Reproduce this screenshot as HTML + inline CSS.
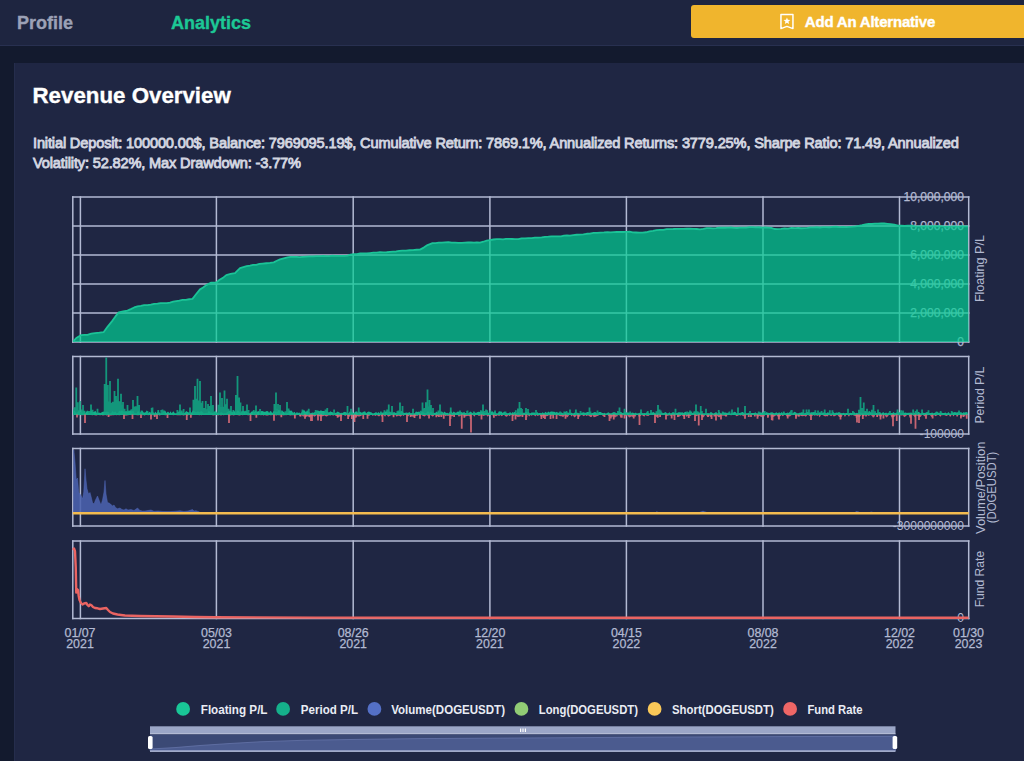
<!DOCTYPE html>
<html><head><meta charset="utf-8"><title>Analytics</title>
<style>
html,body{margin:0;padding:0;}
body{width:1024px;height:761px;overflow:hidden;background:#131a2e;font-family:"Liberation Sans",sans-serif;position:relative;}
.hdr{position:absolute;left:0;top:0;width:1024px;height:45px;background:#1e2540;border-bottom:1px solid #283050;}
.tab{position:absolute;top:11.5px;font-size:18px;font-weight:bold;line-height:22px;white-space:nowrap;}
.t1{left:17px;color:#9ca1b6;-webkit-text-stroke:0.35px #9ca1b6;}
.t2{left:171px;color:#1cc895;-webkit-text-stroke:0.35px #1cc895;}
.btn{position:absolute;left:691px;top:5px;width:340px;height:33px;background:#f0b52d;border-radius:3px;}
.btn span{position:absolute;left:113.8px;top:7.7px;letter-spacing:-0.2px;font-size:15px;font-weight:bold;color:#fff;line-height:18px;white-space:nowrap;-webkit-text-stroke:0.4px #fff;}
.btn svg{position:absolute;left:89px;top:8px;}
.card{position:absolute;left:14px;top:63.4px;width:1020px;height:710px;background:#1f2643;border-left:1px solid #252d4c;}
h1{position:absolute;left:32.5px;top:82.7px;margin:0;font-size:22.3px;line-height:26px;font-weight:bold;color:#fff;white-space:nowrap;-webkit-text-stroke:0.35px #fff;}
.stats{position:absolute;left:33px;top:133px;width:980px;font-size:14.6px;line-height:20px;color:#d3d6e1;font-weight:normal;-webkit-text-stroke:0.85px #d3d6e1;letter-spacing:-0.157px;white-space:nowrap;}
#chart{position:absolute;left:0;top:0;}
</style></head><body>
<div class="hdr"></div>
<div class="tab t1">Profile</div>
<div class="tab t2">Analytics</div>
<div class="btn"><svg width="16" height="18" viewBox="0 0 16 18"><path d="M0.95,1.45H12.95V15.6L6.95,13.4L0.95,15.6Z" fill="none" stroke="#fff" stroke-width="1.5" stroke-linejoin="round"/><path d="M6.95,4.45 L7.89,6.76 L10.37,6.94 L8.47,8.54 L9.07,10.96 L6.95,9.65 L4.83,10.96 L5.43,8.54 L3.53,6.94 L6.01,6.76Z" fill="#fff"/></svg><span>Add An Alternative</span></div>
<div class="card"></div>
<h1>Revenue Overview</h1>
<div class="stats">Initial Deposit: 100000.00$, Balance: 7969095.19$, Cumulative Return: 7869.1%, Annualized Returns: 3779.25%, Sharpe Ratio: 71.49, Annualized<br>Volatility: 52.82%, Max Drawdown: -3.77%</div>
<svg id="chart" width="1024" height="761" viewBox="0 0 1024 761" font-family="Liberation Sans, sans-serif">
<g stroke="#b3bad3" stroke-width="1.5" stroke-linecap="square" fill="none"><line x1="72.8" y1="197" x2="968.7" y2="197"/><line x1="72.8" y1="342" x2="968.7" y2="342"/><line x1="72.8" y1="226" x2="968.7" y2="226"/><line x1="72.8" y1="255" x2="968.7" y2="255"/><line x1="72.8" y1="284" x2="968.7" y2="284"/><line x1="72.8" y1="313" x2="968.7" y2="313"/><line x1="72.8" y1="197" x2="72.8" y2="342"/><line x1="80.4" y1="197" x2="80.4" y2="342"/><line x1="216.4" y1="197" x2="216.4" y2="342"/><line x1="353.2" y1="197" x2="353.2" y2="342"/><line x1="489.9" y1="197" x2="489.9" y2="342"/><line x1="626.4" y1="197" x2="626.4" y2="342"/><line x1="763" y1="197" x2="763" y2="342"/><line x1="899.5" y1="197" x2="899.5" y2="342"/><line x1="968.7" y1="197" x2="968.7" y2="342"/></g>
<g fill="#b3bad2" stroke="#b3bad2" stroke-width="0.25" font-size="12.1" text-anchor="end">
<text x="964" y="201.4">10,000,000</text>
<text x="964" y="230.4">8,000,000</text>
<text x="964" y="259.4">6,000,000</text>
<text x="964" y="288.4">4,000,000</text>
<text x="964" y="317.4">2,000,000</text>
<text x="964" y="346.4">0</text>
</g>
<path d="M73,341.6 L76.25,338.1 L81.25,335.1 L84.38,334.85 L87.5,334.85 L91.25,333.73 L95,333.1 L99.38,332.71 L103.75,332.1 L107.5,326.85 L112.5,320.6 L115.62,316.18 L118.75,312.35 L123.12,311.5 L127.5,310.6 L130.83,309.09 L134.17,307.46 L137.5,306.35 L140.83,305.94 L144.17,305.19 L147.5,305.1 L150.83,304.55 L154.17,303.8 L157.5,303.6 L160.62,303.06 L163.75,303.05 L166.88,303.08 L170,302.6 L173.12,301.65 L176.25,301.03 L179.38,300.63 L182.5,299.85 L185.83,299.83 L189.17,299.24 L192.5,298.85 L196.25,294.03 L200,289.35 L203.12,287.56 L206.25,285.1 L211.25,282.6 L216.25,282.6 L219.58,279.78 L222.92,277.85 L226.25,275.1 L230.62,273.95 L235,273.1 L240,268.1 L243.33,267.02 L246.67,266.17 L250,265.6 L253.12,264.97 L256.25,264.82 L259.38,263.88 L262.5,263.6 L266.25,263.24 L270,262.86 L273.75,262.35 L276.88,260.76 L280,259.35 L283.75,258.38 L287.5,257.35 L290.5,256.94 L293.5,256.84 L296.5,256.84 L299.5,257.08 L302.5,256.85 L306,256.65 L309.5,256.42 L313,256.46 L316.5,256.22 L320,256.1 L323.06,255.9 L326.11,256.19 L329.17,256.07 L332.22,255.7 L335.28,255.87 L338.33,255.78 L341.39,255.97 L344.44,255.82 L347.5,255.6 L350.62,254.7 L353.75,254.1 L357,254.24 L360.25,253.43 L363.5,253.44 L366.75,253.48 L370,253.1 L373.33,252.65 L376.67,252.68 L380,252.15 L383.33,252.38 L386.67,252.24 L390,251.85 L393.12,251.59 L396.25,251.49 L399.38,250.78 L402.5,250.6 L406,250.54 L409.5,250.27 L413,250.06 L416.5,249.77 L420,249.6 L423.75,247.59 L427.5,245.1 L432.5,243.1 L435.62,243.22 L438.75,242.71 L441.88,242.65 L445,242.35 L448.33,242.08 L451.67,242.57 L455,242.58 L458.33,242.86 L461.67,242.78 L465,242.6 L468,242.45 L471,242.52 L474,242.72 L477,242.27 L480,242.6 L483.33,241.74 L486.67,240.7 L490,240.1 L493.33,239.5 L496.67,239.12 L500,239.1 L503,239.29 L506,238.84 L509,238.92 L512,239.02 L515,239.1 L518.33,239.11 L521.67,238.31 L525,238.31 L528.33,238.13 L531.67,238.12 L535,237.6 L538.33,237.62 L541.67,237.44 L545,236.82 L548.33,236.71 L551.67,236.46 L555,236.35 L558,236.47 L561,236.37 L564,235.66 L567,235.52 L570,235.6 L573.33,235.08 L576.67,234.75 L580,234.59 L583.33,234.33 L586.67,233.77 L590,233.6 L593.5,232.95 L597,232.94 L600.5,232.61 L604,232.45 L607.5,232.1 L610.62,232.38 L613.75,232.15 L616.88,231.99 L620,232.02 L623.12,232.02 L626.25,231.85 L629.5,231.69 L632.75,232.43 L636,232.5 L639.25,232.71 L642.5,232.6 L646,232.26 L649.5,231.42 L653,230.88 L656.5,230.12 L660,229.85 L663.33,229.78 L666.67,229.21 L670,229.05 L673.33,228.98 L676.67,228.78 L680,228.85 L683.33,228.82 L686.67,228.7 L690,228.75 L693.33,228.94 L696.67,228.99 L700,229.35 L703.33,228.84 L706.67,228.18 L710,228.1 L713,228.31 L716,228.08 L719,227.7 L722,227.73 L725,227.74 L728,227.7 L731,227.49 L734,227.94 L737,228 L740,227.6 L743.12,227.54 L746.25,227.53 L749.38,227.22 L752.5,227.2 L755.62,227.33 L758.75,227.25 L761.88,227.61 L765,227.35 L768.12,227.55 L771.25,227.89 L774.38,228.98 L777.5,229.1 L781,228.92 L784.5,228.45 L788,228.53 L791.5,227.97 L795,228.1 L798.1,228.02 L801.2,228.23 L804.3,228.05 L807.4,227.84 L810.5,227.43 L813.6,227.41 L816.7,227.17 L819.8,227.49 L822.9,227.22 L826,227.1 L829.4,227.25 L832.8,226.88 L836.2,226.76 L839.6,227.12 L843,226.85 L846.12,227.06 L849.25,226.85 L852.38,226.69 L855.5,226.35 L858.83,225.91 L862.17,225.18 L865.5,224.35 L868.62,223.97 L871.75,223.99 L874.88,223.69 L878,223.6 L881.12,223.4 L884.25,223.52 L887.38,223.82 L890.5,224.1 L894.25,224.68 L898,225.6 L901.33,225.73 L904.67,225.92 L908,225.6 L911.33,225.69 L914.67,226.16 L918,226.32 L921.33,226.42 L924.67,226.13 L928,226.35 L931.08,226.15 L934.15,226.16 L937.23,226.14 L940.31,226.14 L943.38,226.44 L946.46,226.63 L949.54,226.59 L952.62,226.34 L955.69,226.46 L958.77,226.56 L961.85,226.06 L964.92,226.46 L968,226.35 L968.7,342 L72.8,342 Z" fill="#02cf93" fill-opacity="0.7"/>
<path d="M73,341.6 L76.25,338.1 L81.25,335.1 L84.38,334.85 L87.5,334.85 L91.25,333.73 L95,333.1 L99.38,332.71 L103.75,332.1 L107.5,326.85 L112.5,320.6 L115.62,316.18 L118.75,312.35 L123.12,311.5 L127.5,310.6 L130.83,309.09 L134.17,307.46 L137.5,306.35 L140.83,305.94 L144.17,305.19 L147.5,305.1 L150.83,304.55 L154.17,303.8 L157.5,303.6 L160.62,303.06 L163.75,303.05 L166.88,303.08 L170,302.6 L173.12,301.65 L176.25,301.03 L179.38,300.63 L182.5,299.85 L185.83,299.83 L189.17,299.24 L192.5,298.85 L196.25,294.03 L200,289.35 L203.12,287.56 L206.25,285.1 L211.25,282.6 L216.25,282.6 L219.58,279.78 L222.92,277.85 L226.25,275.1 L230.62,273.95 L235,273.1 L240,268.1 L243.33,267.02 L246.67,266.17 L250,265.6 L253.12,264.97 L256.25,264.82 L259.38,263.88 L262.5,263.6 L266.25,263.24 L270,262.86 L273.75,262.35 L276.88,260.76 L280,259.35 L283.75,258.38 L287.5,257.35 L290.5,256.94 L293.5,256.84 L296.5,256.84 L299.5,257.08 L302.5,256.85 L306,256.65 L309.5,256.42 L313,256.46 L316.5,256.22 L320,256.1 L323.06,255.9 L326.11,256.19 L329.17,256.07 L332.22,255.7 L335.28,255.87 L338.33,255.78 L341.39,255.97 L344.44,255.82 L347.5,255.6 L350.62,254.7 L353.75,254.1 L357,254.24 L360.25,253.43 L363.5,253.44 L366.75,253.48 L370,253.1 L373.33,252.65 L376.67,252.68 L380,252.15 L383.33,252.38 L386.67,252.24 L390,251.85 L393.12,251.59 L396.25,251.49 L399.38,250.78 L402.5,250.6 L406,250.54 L409.5,250.27 L413,250.06 L416.5,249.77 L420,249.6 L423.75,247.59 L427.5,245.1 L432.5,243.1 L435.62,243.22 L438.75,242.71 L441.88,242.65 L445,242.35 L448.33,242.08 L451.67,242.57 L455,242.58 L458.33,242.86 L461.67,242.78 L465,242.6 L468,242.45 L471,242.52 L474,242.72 L477,242.27 L480,242.6 L483.33,241.74 L486.67,240.7 L490,240.1 L493.33,239.5 L496.67,239.12 L500,239.1 L503,239.29 L506,238.84 L509,238.92 L512,239.02 L515,239.1 L518.33,239.11 L521.67,238.31 L525,238.31 L528.33,238.13 L531.67,238.12 L535,237.6 L538.33,237.62 L541.67,237.44 L545,236.82 L548.33,236.71 L551.67,236.46 L555,236.35 L558,236.47 L561,236.37 L564,235.66 L567,235.52 L570,235.6 L573.33,235.08 L576.67,234.75 L580,234.59 L583.33,234.33 L586.67,233.77 L590,233.6 L593.5,232.95 L597,232.94 L600.5,232.61 L604,232.45 L607.5,232.1 L610.62,232.38 L613.75,232.15 L616.88,231.99 L620,232.02 L623.12,232.02 L626.25,231.85 L629.5,231.69 L632.75,232.43 L636,232.5 L639.25,232.71 L642.5,232.6 L646,232.26 L649.5,231.42 L653,230.88 L656.5,230.12 L660,229.85 L663.33,229.78 L666.67,229.21 L670,229.05 L673.33,228.98 L676.67,228.78 L680,228.85 L683.33,228.82 L686.67,228.7 L690,228.75 L693.33,228.94 L696.67,228.99 L700,229.35 L703.33,228.84 L706.67,228.18 L710,228.1 L713,228.31 L716,228.08 L719,227.7 L722,227.73 L725,227.74 L728,227.7 L731,227.49 L734,227.94 L737,228 L740,227.6 L743.12,227.54 L746.25,227.53 L749.38,227.22 L752.5,227.2 L755.62,227.33 L758.75,227.25 L761.88,227.61 L765,227.35 L768.12,227.55 L771.25,227.89 L774.38,228.98 L777.5,229.1 L781,228.92 L784.5,228.45 L788,228.53 L791.5,227.97 L795,228.1 L798.1,228.02 L801.2,228.23 L804.3,228.05 L807.4,227.84 L810.5,227.43 L813.6,227.41 L816.7,227.17 L819.8,227.49 L822.9,227.22 L826,227.1 L829.4,227.25 L832.8,226.88 L836.2,226.76 L839.6,227.12 L843,226.85 L846.12,227.06 L849.25,226.85 L852.38,226.69 L855.5,226.35 L858.83,225.91 L862.17,225.18 L865.5,224.35 L868.62,223.97 L871.75,223.99 L874.88,223.69 L878,223.6 L881.12,223.4 L884.25,223.52 L887.38,223.82 L890.5,224.1 L894.25,224.68 L898,225.6 L901.33,225.73 L904.67,225.92 L908,225.6 L911.33,225.69 L914.67,226.16 L918,226.32 L921.33,226.42 L924.67,226.13 L928,226.35 L931.08,226.15 L934.15,226.16 L937.23,226.14 L940.31,226.14 L943.38,226.44 L946.46,226.63 L949.54,226.59 L952.62,226.34 L955.69,226.46 L958.77,226.56 L961.85,226.06 L964.92,226.46 L968,226.35" fill="none" stroke="#1bc397" stroke-width="1.8" stroke-linejoin="round"/>
<g stroke="#b3bad3" stroke-width="1.5" stroke-linecap="square" fill="none"><line x1="72.8" y1="356.5" x2="968.7" y2="356.5"/><line x1="72.8" y1="434" x2="968.7" y2="434"/><line x1="72.8" y1="356.5" x2="72.8" y2="434"/><line x1="80.4" y1="356.5" x2="80.4" y2="434"/><line x1="216.4" y1="356.5" x2="216.4" y2="434"/><line x1="353.2" y1="356.5" x2="353.2" y2="434"/><line x1="489.9" y1="356.5" x2="489.9" y2="434"/><line x1="626.4" y1="356.5" x2="626.4" y2="434"/><line x1="763" y1="356.5" x2="763" y2="434"/><line x1="899.5" y1="356.5" x2="899.5" y2="434"/><line x1="968.7" y1="356.5" x2="968.7" y2="434"/></g>
<text x="964" y="438.4" fill="#b3bad2" font-size="12.1" text-anchor="end">-100000</text>
<path d="M73.2,415.1 L73.2,410.41 L74.73,410.95 L76.01,412.89 L77.54,412.37 L79.08,410.2 L80.3,412.14 L81.95,411.04 L82.99,413.07 L84.01,410.42 L85.56,413 L87.12,410.17 L88.54,412.31 L89.88,413.05 L90.79,410.2 L92.21,411.71 L93.86,412.03 L95.46,410.69 L96.53,412.64 L97.66,412.68 L99.03,412.62 L100.27,413.05 L101.89,412.3 L103.16,411.52 L104.78,412.07 L106.42,411.79 L107.74,411.72 L108.66,412 L109.7,413.49 L111.24,412.91 L112.52,411.03 L113.87,412.39 L115.18,411.61 L116.71,413.14 L118.06,412.66 L119.18,410.87 L120.49,411.59 L121.99,410.4 L123.25,411.42 L124.55,411.76 L126.01,411.96 L127.33,411.87 L128.99,411.12 L130.59,410.3 L131.7,411.6 L133.35,410.64 L134.36,413.09 L135.61,413.25 L136.71,413.25 L138.14,410.83 L139.76,412.97 L141.23,411.26 L142.25,410.5 L143.92,412.75 L145.58,412.15 L146.87,410.13 L148.44,412.95 L149.68,411.75 L150.86,412.83 L152.01,411.04 L152.93,411.62 L154.18,413.44 L155.34,411.38 L156.65,413.28 L158.34,410.82 L160.02,413.14 L161.13,413.37 L162.65,412.58 L163.66,412.06 L165.29,410.72 L166.39,412.99 L168.03,411.56 L169.49,413.2 L170.44,411.16 L171.68,413.25 L173.33,411.34 L174.87,413.22 L176.45,413.27 L178.04,411.96 L179.21,411.62 L180.86,412.59 L181.86,411.71 L182.95,413.13 L183.98,413.33 L185.04,412.44 L186.18,410.92 L187.32,411.8 L188.36,412.32 L189.27,412.65 L190.19,411.01 L191.53,412.86 L192.81,410.32 L193.79,410.72 L195.04,411.82 L196.6,412.16 L197.91,411.16 L199.6,412.33 L201.16,411.1 L202.57,412.12 L203.75,413.32 L204.75,413.26 L206.24,412.63 L207.28,413.21 L208.85,410.54 L210.28,412.54 L211.38,412.5 L212.65,412.96 L213.9,412.6 L215.57,410.19 L216.91,412.67 L218.58,412.45 L219.77,413.5 L220.97,411.89 L222.28,412.82 L223.58,413.48 L224.69,413.19 L225.91,413.36 L226.83,412.47 L227.91,411.51 L229.24,410.95 L230.66,411.07 L232.27,412.18 L233.43,410.15 L234.45,411.04 L235.86,413.35 L237.43,410.47 L238.83,411 L240.38,413.03 L241.7,411.79 L243.27,410.76 L244.83,411.51 L246.44,411.18 L247.9,412.72 L248.82,413.05 L250.01,413.14 L251.58,411.6 L252.98,411.37 L254.43,411.84 L255.33,410.79 L256.83,411.79 L258.16,411.26 L259.11,410.99 L260.21,413.25 L261.32,411.02 L262.39,410.98 L264.07,411.82 L265.28,411.87 L266.72,410.89 L268.12,411.31 L269.08,413 L270.18,410.97 L271.32,411.57 L272.23,413.29 L273.35,411.22 L274.8,411.2 L275.94,411.74 L277.21,411.91 L278.2,410.46 L279.26,410.17 L280.91,413.44 L282.18,410.71 L283.85,411.97 L284.97,412.79 L286.62,412.78 L287.99,413.02 L289.31,410.26 L290.31,410.71 L291.62,410.48 L293.08,412.71 L294.7,411.85 L295.62,413.49 L296.92,411.97 L298.06,413.02 L299.23,412.43 L300.8,413.49 L302.3,410.65 L303.3,410.35 L304.77,410.43 L305.9,412.23 L307.12,410.1 L308.49,412.27 L309.73,412.56 L310.67,413.15 L312.24,412.53 L313.89,412.65 L315,411.76 L316.05,412.23 L317.72,410.49 L319.26,411.35 L320.9,410.3 L322.24,411.05 L323.17,411.01 L324.44,410.94 L325.85,412.53 L326.79,410.35 L327.79,411.89 L328.97,412.49 L330.46,411.35 L331.57,412.06 L332.71,412.27 L333.92,413.13 L334.95,413.04 L336.58,412.41 L337.65,411.51 L339.35,412.51 L340.36,413.08 L341.33,412.75 L342.31,412.97 L343.41,412.25 L345.02,411.85 L346.25,412.59 L347.57,412.67 L348.74,413.36 L349.87,411.37 L350.87,412.39 L352.27,411.6 L353.34,412.9 L354.44,412.62 L355.7,411.4 L357.28,411.58 L358.19,413.43 L359.66,411.53 L360.94,412.21 L361.84,412.64 L363.48,411.68 L365.07,411.36 L366.17,413.26 L367.19,412.35 L368.63,411.43 L370.11,412.08 L371.62,412.49 L372.97,413.41 L374.49,412.99 L376.13,412.08 L377.27,413.22 L378.37,412.1 L379.83,413.25 L380.79,412.35 L382.15,412.65 L383.23,412.18 L384.14,412.84 L385.41,411.39 L386.82,411.56 L388.1,412.98 L389.2,411.39 L390.67,412.82 L391.58,412.4 L393.02,412.58 L394.13,412.03 L395.77,413 L396.7,412.76 L397.93,412 L398.99,411.75 L400.48,412.39 L401.55,411.37 L402.7,411.7 L403.78,413.01 L405.29,412.85 L406.95,412.41 L408,413.01 L409.23,412.04 L410.89,413.18 L412.11,413.03 L413.79,413.19 L414.73,413.37 L415.94,411.52 L417.55,411.89 L419.25,411.45 L420.41,413.09 L422.06,411.86 L422.99,412.04 L424.19,412.68 L425.35,413.13 L426.26,412.88 L427.44,411.4 L428.44,411.38 L429.5,412.72 L431.06,411.69 L432.31,413.39 L433.58,412.68 L435.22,413.08 L436.41,411.53 L437.34,412.6 L438.88,411.81 L439.82,413.42 L440.77,411.48 L441.87,411.86 L443.49,412.75 L444.61,411.39 L446,412.92 L447.48,412.8 L448.6,413.49 L450.1,411.48 L451.51,411.42 L452.43,412.99 L453.71,411.4 L455.37,412.65 L456.47,412.55 L457.77,411.46 L458.81,411.73 L460.3,411.69 L461.82,412.16 L462.98,412.8 L464.17,411.78 L465.14,413.07 L466.64,412.96 L467.59,413.43 L468.93,412.78 L470.62,411.56 L472.31,412.92 L473.28,413.29 L474.57,411.94 L475.83,412.98 L477.07,412.14 L478.5,411.85 L480.08,412.04 L481.08,411.65 L482.21,412.25 L483.41,411.88 L484.47,412.96 L485.57,413.16 L487.18,412.23 L488.34,412.63 L490.03,412.38 L491.12,411.72 L492.54,411.32 L493.52,412.46 L495.08,411.65 L496.71,413.41 L497.84,413.24 L498.89,411.36 L500.26,411.45 L501.46,411.59 L502.72,412.93 L504.24,411.42 L505.22,412.19 L506.62,413.02 L507.81,413.19 L508.88,412.94 L510.26,412.07 L511.32,413.47 L512.48,412.01 L513.53,412.81 L514.59,411.75 L515.93,413.36 L516.91,412.63 L518.25,412.09 L519.23,413.14 L520.68,412.6 L521.81,412.82 L523.47,412.81 L524.82,412.71 L526.06,411.6 L527.75,412.7 L528.81,411.9 L529.88,413.49 L531.5,412.57 L533.05,412.61 L534.66,412.49 L535.69,413.47 L537.03,412.09 L538.66,413.3 L540.06,412.68 L541.36,413.18 L542.49,412.35 L544.13,413.26 L545.42,411.73 L547.09,413.07 L548.09,411.43 L549.77,412.44 L550.72,411.46 L551.93,411.51 L553.32,411.69 L554.35,411.77 L555.43,412.61 L557.01,411.68 L558.05,413.02 L559.27,412.36 L560.48,413.29 L561.58,412.27 L563.2,413.43 L564.54,412.21 L565.48,412.08 L566.47,412.48 L567.81,412.43 L568.95,412.79 L570.32,412.78 L571.75,412.74 L573,413.46 L574.39,412.67 L575.48,412.2 L577.01,412.72 L578.05,412.7 L579.04,413.28 L580.28,413.34 L581.53,412.63 L582.47,412.42 L583.43,412.25 L584.95,412.63 L585.9,412.64 L587.1,411.88 L588.11,412.04 L589.81,412.26 L591.36,413.17 L593.04,412.66 L594.71,411.94 L595.74,412.16 L597.38,413.39 L598.57,412.21 L599.59,411.98 L600.71,412.11 L601.73,412.65 L603.36,413.15 L604.47,412.64 L605.63,413.44 L606.67,413.23 L608.32,412.34 L609.94,413.21 L611.47,413.3 L612.79,412.42 L613.98,412.02 L615.32,412.51 L616.93,413.32 L618.62,412.43 L619.84,412.14 L620.95,411.82 L622.31,412.89 L623.83,412.75 L624.87,412.24 L625.81,412.11 L626.91,412.41 L628.6,412.5 L630.03,412.97 L630.93,413.44 L631.95,412.45 L633.19,412.63 L634.81,413.28 L635.89,412.39 L636.81,413.5 L637.99,413.32 L639.18,413.12 L640.55,412.5 L641.61,412.44 L642.89,413.27 L644.54,413.09 L645.56,413.34 L646.97,412.02 L648.49,412.82 L649.61,413.48 L651.02,412.54 L652.2,412.4 L653.46,411.91 L654.94,413.08 L656.57,413.43 L657.89,412.81 L658.98,413.4 L660.5,413.48 L661.85,411.9 L662.86,413.16 L664.25,412.64 L665.66,412.12 L666.7,412.97 L667.84,413.42 L669.45,412.17 L670.92,413.49 L672.5,412.23 L673.77,412.24 L675.03,413.12 L676.02,413.11 L676.95,412.93 L678.45,412.32 L680.02,412.29 L681.14,412.56 L682.39,412.16 L683.7,413.05 L685.12,411.86 L686.19,412 L687.1,413.06 L688.19,412.24 L689.85,412.23 L691.01,412 L692.17,413.09 L693.8,412.43 L695.25,412.37 L696.94,412.7 L698.51,412.31 L700.09,412.76 L701.57,412.53 L702.72,413.14 L704.12,413.37 L705.75,413.25 L706.67,413.32 L708.31,412.91 L709.32,413.45 L710.26,412.32 L711.66,412.32 L713.15,413.39 L714.53,412.88 L716.08,412.11 L717.69,413.39 L719.29,411.95 L720.94,413.32 L722.01,413.31 L722.94,412.06 L724.49,412.42 L726.05,412.43 L727.18,413.33 L728.15,412.21 L729.22,412.96 L730.46,413.46 L731.56,413.02 L733.03,412.87 L734.19,411.86 L735.49,412.05 L736.89,413.45 L738.12,412.76 L739.64,412.91 L741.1,412.59 L742.17,412.03 L743.15,412.11 L744.18,413.5 L745.25,412.2 L746.93,413.49 L748.22,412.66 L749.76,413.19 L751.05,412.91 L752.62,413.06 L754.27,413.02 L755.35,412.31 L756.64,413.31 L758.05,413.36 L759.58,412.31 L761.11,412.43 L762.3,412.82 L763.51,411.99 L764.48,411.99 L765.4,413.15 L766.51,411.97 L767.81,412.86 L769.42,413.1 L770.69,412.6 L772.19,412.22 L773.61,412.91 L774.77,413.24 L776.35,412.37 L777.84,413.21 L779.09,412.19 L780.45,413.29 L781.72,412 L782.81,413.17 L783.96,412.3 L785.53,413.24 L786.56,413.08 L787.72,412.61 L788.75,412.94 L789.8,411.84 L791.28,413.33 L792.95,413.33 L794.16,411.83 L795.69,412.25 L796.94,413.17 L798.35,413.32 L799.42,412.84 L800.34,412.82 L801.88,412.32 L803.18,412.42 L804.45,413.26 L805.83,412.81 L807.32,411.96 L808.57,412.52 L810.07,412.78 L811.15,412.27 L812.75,412.18 L814.21,412.05 L815.66,412.41 L816.92,412.97 L818.32,413.33 L819.56,412.17 L821.03,412.43 L822.13,412.78 L823.39,412.44 L824.62,412.35 L826.26,413.19 L827.69,412.18 L828.9,412.67 L830.58,413.44 L831.91,413.23 L833.44,411.9 L834.75,413.33 L836.11,412.58 L837.59,412.63 L839,412.09 L840.32,412.8 L841.98,413.14 L843.42,412.83 L844.93,413.29 L846.62,412.9 L847.57,413.03 L848.79,413.48 L850.02,412.79 L851.48,412.9 L852.59,413.12 L854.08,411.9 L855.41,413.13 L856.95,412.83 L858.02,413.28 L859.54,412.12 L860.95,412.7 L862.29,413.12 L863.97,412.9 L865.38,412.11 L866.93,412.7 L868.07,412.57 L869.07,412.08 L870.25,412.05 L871.36,412.86 L872.47,412.78 L873.51,413.5 L874.99,413.02 L876.09,412.99 L877.37,412.77 L878.78,412.38 L879.97,411.92 L881.56,413.4 L883.12,411.96 L884.64,413.26 L886.21,412.42 L887.12,413.48 L888.78,412.38 L889.88,413.33 L890.9,413.1 L892.42,412.91 L893.44,411.96 L894.97,413.21 L896.59,412.47 L898.11,412.36 L899.73,412.16 L901.3,413.16 L902.75,412.6 L904.25,412.75 L905.85,412.56 L906.96,413.1 L907.98,412.66 L908.92,412.71 L909.94,412.66 L911.24,412.58 L912.83,413.49 L914.4,412.7 L915.75,412.37 L917.32,412.86 L918.56,411.87 L919.52,412.42 L920.93,413.45 L922.31,412.34 L923.96,412.94 L925.64,412.63 L926.93,411.97 L927.86,412.28 L929.26,412.92 L930.85,412.88 L932.13,412.61 L933.64,413.14 L934.89,412.78 L936.24,412.09 L937.37,412.09 L938.59,412.64 L939.71,412.64 L941.39,412.39 L942.92,412.94 L944.08,412.99 L945.45,412.42 L946.97,413.43 L948.45,411.99 L949.79,413.42 L950.93,413.49 L951.98,411.93 L953.37,412.38 L954.9,411.95 L956.29,412.45 L957.69,412.32 L959.07,412.34 L960.14,412.37 L961.4,412.2 L962.38,413.19 L963.31,412.18 L964.95,412.39 L966.14,412.1 L967.67,412.54 L968,415.1Z" fill="#13b38b"/>
<path d="M73.2,415 L73.2,415.15 L74.13,415.01 L75.54,415 L76.84,415 L78.36,415.21 L79.99,415 L81.44,415.3 L83.12,415.24 L84.46,415.04 L85.53,415 L86.77,415 L87.77,415 L88.84,415.06 L89.76,415 L91.02,415 L92.21,415.37 L93.8,415 L94.93,415.28 L96.2,415.47 L97.83,415 L98.74,415.01 L100.19,415.31 L101.34,415 L103,415.42 L103.95,415.18 L105.43,415 L106.45,415.4 L108.11,415.08 L109.39,415.39 L111.05,415.39 L112.22,415.14 L113.9,415.35 L115.06,415 L116.63,415.3 L117.99,415 L119.2,415.34 L120.71,415.12 L121.84,415 L122.95,415 L124.08,415.07 L125.1,415.49 L126.55,415.46 L127.88,415.27 L129.42,415.1 L131.06,415.12 L132.01,415.2 L133.07,415 L134.61,415 L135.93,415 L137.02,415.29 L138.63,415.26 L139.93,415 L140.99,415.09 L142.12,415.29 L143.34,415 L144.44,415.46 L145.64,415.05 L146.91,415.04 L148.29,415.17 L149.67,415 L151.36,415.43 L152.73,415.11 L153.97,415.47 L155.53,415.48 L157.1,415 L158.31,415 L159.65,415.44 L160.94,415 L162.53,415 L164,415.04 L165.35,415.32 L166.65,415 L167.85,415.12 L168.93,415.02 L170.58,415.03 L172.21,415 L173.31,415.26 L174.73,415 L175.71,415 L177.36,415.34 L178.73,415.22 L179.72,415.16 L180.93,415.19 L181.96,415 L183.6,415.45 L185.07,415 L186.1,415 L187.74,415.43 L188.75,415 L190.4,415 L191.8,415.23 L192.96,415 L194.36,415 L195.85,415.09 L197.19,415 L198.3,415 L199.22,415.29 L200.39,415.08 L201.38,415.23 L202.37,415 L203.77,415 L205.12,415 L206.23,415.1 L207.47,415 L209.11,415.05 L210.35,415.08 L212.03,415.07 L212.94,415.4 L214.25,415.22 L215.38,415 L217.01,415.11 L218.05,415.42 L219.57,415 L220.95,415.41 L222.44,415 L223.5,415.31 L224.9,415.1 L225.97,415.03 L227.28,415 L228.6,415.17 L230.17,415.43 L231.14,415.2 L232.15,415 L233.2,415.42 L234.13,415.35 L235.5,415 L237.15,415 L238.14,415.36 L239.67,415.43 L241.17,415 L242.83,415.25 L243.75,415 L244.67,415 L246.06,415.08 L247.16,415 L248.08,415.46 L249.14,415.01 L250.55,415 L252.01,415 L253.48,415 L254.75,415.29 L255.74,415 L257.08,415 L258.09,415.29 L259.31,415 L260.96,415.19 L262.34,415 L263.55,415.47 L264.73,415.12 L266.2,415.42 L267.74,415.46 L269.32,415.03 L270.34,415.34 L271.44,415.21 L272.35,415 L273.3,415.22 L274.74,415.11 L276.41,415.39 L277.82,415 L278.75,415.32 L280.38,415.31 L281.71,415.46 L282.69,415 L283.94,415.48 L284.93,415 L285.93,415.3 L287.55,415.04 L288.88,415 L290.19,415.44 L291.55,415.14 L292.52,415.27 L293.91,415.29 L295.11,415.27 L296.38,415.27 L297.67,415 L298.76,415.11 L300.1,416.84 L301.01,415 L302.17,415.62 L303.29,416.88 L304.24,415.04 L305.19,416.66 L306.62,415.98 L307.8,416.45 L308.88,416.82 L310.53,415.79 L311.71,416.28 L313.1,415.53 L314.08,416.63 L315.19,416.2 L316.82,415 L317.73,416.45 L318.72,415.76 L319.74,416.61 L321.34,416.15 L322.92,416.32 L324.4,415.56 L325.72,416.13 L326.88,416.5 L328.08,415.57 L329.22,415.28 L330.42,415.44 L331.58,415 L333.25,415.39 L334.86,415 L335.8,416.07 L336.94,416.02 L338.27,416.9 L339.83,416.38 L341.04,415.68 L342.49,415 L343.93,415 L345.15,415.95 L346.5,415 L348.18,415.92 L349.69,416.71 L350.86,415 L351.9,415 L353.46,415 L354.89,415.56 L356.44,416.88 L357.85,416 L358.91,416.7 L359.96,416.2 L360.94,416.08 L362.35,415.08 L363.26,415.01 L364.72,415.01 L365.93,415 L367.37,415.37 L368.88,416.08 L370.5,415 L371.86,415 L372.88,415.99 L373.86,415 L375.52,415.93 L376.91,415 L378.33,416.3 L379.49,416.36 L380.61,415.06 L381.59,416.72 L382.54,415.36 L383.75,415.1 L385.11,416.82 L386.06,415 L386.99,415 L388.14,416.71 L389.29,416.14 L390.97,415.13 L392.18,415 L393.41,415.76 L394.7,415 L395.67,415.32 L396.72,416.85 L397.94,415.69 L399.26,415.73 L400.68,416.83 L402.24,415 L403.45,415.89 L404.54,415.07 L405.46,415 L406.93,415.18 L408.26,416.5 L409.52,415 L410.55,415.67 L411.77,416.2 L412.84,416.81 L413.9,416.63 L414.91,416.34 L416.28,415.84 L417.61,415.77 L418.68,415 L420.12,415.17 L421.61,415 L423.04,416.08 L423.95,416.35 L424.99,416.62 L426.04,415 L427.39,415.69 L428.9,415.37 L430.05,415 L431.6,415.76 L432.82,416.73 L434.43,415 L436.08,415.34 L437.52,416.26 L439.14,415.05 L440.6,415.47 L441.78,415 L442.91,415.51 L444.4,415 L445.63,416.16 L446.68,415.58 L448.17,416.05 L449.59,415 L450.94,416.36 L452.58,416.27 L453.76,415 L454.89,415.08 L456.28,415 L457.72,415.07 L458.79,416.74 L460.42,415.79 L461.63,415 L462.76,415.17 L464.01,415.65 L465.5,416.58 L466.91,415.97 L468.36,415.81 L469.94,416.48 L471.45,415.08 L473.01,415 L474.35,416.84 L475.44,415 L476.47,415 L477.53,415 L478.98,415.92 L480.07,415.46 L481.52,415.25 L482.71,415.57 L483.72,416.07 L485.12,415.22 L486.63,415.32 L487.66,416.86 L489.22,415.22 L490.13,415 L491.08,415 L492.07,415 L493.1,415.85 L494.29,415 L495.22,415.89 L496.19,416.36 L497.54,415.21 L499.21,415.93 L500.36,415 L501.78,416.19 L503.2,415 L504.16,415 L505.68,416.6 L506.88,416.83 L508.45,415 L509.44,416.37 L510.93,415 L512.35,415 L513.54,416.05 L515.11,415 L516.05,416.08 L517.68,416.9 L519.31,416.8 L520.55,416.39 L521.93,415 L523.38,415.31 L524.79,415 L526.37,415 L527.85,415.01 L529.43,416.5 L530.44,415 L531.76,415.8 L532.71,415 L534.33,415.31 L535.23,416.53 L536.41,415 L537.75,415.98 L539.42,415 L541.1,416.83 L542.07,416.54 L543.51,416.16 L544.86,415.8 L546.15,416.23 L547.74,416.01 L548.66,415.36 L550.15,415 L551.58,415.71 L553.23,415 L554.59,415 L555.67,415 L557.01,415.21 L558.43,415.36 L559.53,415.93 L560.79,416.35 L561.78,416.28 L563.14,417.13 L564.1,416.1 L565.44,415 L566.84,417.4 L567.82,417.08 L569.16,415 L570.51,415 L571.7,416.55 L572.79,415 L574.26,417.39 L575.4,416.77 L577.02,415 L578.37,417.29 L579.41,416.86 L580.95,415 L582.51,415.31 L583.82,416.31 L585.3,415.11 L586.48,415.89 L588.02,415.28 L589.12,415.89 L590.38,417.1 L591.63,416.98 L592.62,415 L593.64,417.33 L595.07,417.09 L596.67,416.35 L598.18,415.67 L599.09,415 L600.38,415 L601.92,415 L603.32,416.61 L604.53,415 L605.99,415 L607.59,415 L608.77,416.32 L610.39,415 L611.46,417.05 L612.73,416.44 L614.38,415.79 L615.75,415 L616.85,417.19 L617.78,415.36 L618.8,415 L620.1,415.66 L621.46,415 L623.15,415.09 L624.77,415 L626.29,416.58 L627.27,415 L628.87,417.35 L629.83,417.41 L631.32,416.27 L632.41,417.18 L633.64,415.15 L635.08,417.21 L636.38,415 L638.08,415 L638.98,417.18 L640.21,415.99 L641.85,415 L642.99,415.77 L644.35,416.65 L645.31,415 L646.67,415.76 L648.36,415.89 L649.61,415 L651.18,415 L652.3,415 L653.81,415 L655.27,415.55 L656.53,417.23 L658.12,415 L659.21,415 L660.59,415.2 L661.77,415 L662.88,415 L664.29,415 L665.45,415 L666.87,416.01 L668.41,415.44 L669.95,415.22 L671.12,416.24 L672.34,415 L673.26,415.79 L674.95,415.14 L676.41,415 L677.39,415 L678.71,417.1 L680.26,416.06 L681.71,415 L683.13,416.5 L684.22,416.55 L685.5,415.08 L686.65,416.93 L687.91,415.7 L689.23,415.68 L690.14,416.19 L691.69,415 L693.38,415 L695.03,415 L695.98,416.25 L697.5,415.65 L698.69,415 L700.29,415 L701.61,415.88 L702.71,417.46 L703.78,417.28 L705.04,415 L706.03,415 L707.58,417.28 L709.17,415.15 L710.37,417.27 L712.02,415 L712.95,415.05 L714.19,415 L715.36,416.06 L716.49,415 L718.18,416.98 L719.77,417.17 L721.43,415.34 L722.56,415.83 L724.16,415.62 L725.6,416.49 L726.67,415 L728.25,415 L729.78,415 L731.03,415.35 L732.47,415 L734.15,415.02 L735.17,415 L736.68,416.16 L737.65,415.85 L739.12,415 L740.49,415.5 L741.94,415.09 L743.32,416.44 L744.3,415.05 L745.25,415.28 L746.93,415 L747.97,415 L749.38,415 L750.7,415 L751.88,415 L753.37,415 L754.28,415 L755.34,415.12 L757,415.67 L758.45,416.63 L759.57,415.83 L761.26,417.19 L762.37,416.05 L763.61,417.43 L765.12,415 L766.74,415 L768.12,417.32 L769.58,415 L771.14,415 L772.71,416.96 L773.65,416.74 L775.1,416.11 L776.25,415 L777.53,416.62 L778.84,416.48 L779.93,416.57 L781.52,415 L782.74,416.32 L784.17,415 L785.57,415 L787.21,416.91 L788.83,416.18 L790.01,416.47 L791.09,415.36 L792.28,415 L793.83,415 L794.85,415 L796.27,417.07 L797.86,415.11 L799.05,417.16 L800.05,415.38 L801.25,415.91 L802.79,416.3 L804.22,415.69 L805.92,416.74 L807.33,415 L808.83,415.37 L809.84,416.22 L810.93,415.93 L812.47,415.63 L813.53,415 L814.9,415.77 L816.02,415 L817.13,416.1 L818.54,415 L819.55,417.4 L820.94,415 L822.41,415 L823.88,415.74 L825.13,416.52 L826.31,415.96 L827.31,416.55 L828.68,415 L829.84,415.18 L831.05,416.31 L832.69,415 L833.68,416.41 L835.14,416.09 L836.18,415.16 L837.48,415 L838.91,416.85 L840.24,417.31 L841.59,416.92 L842.58,415 L843.94,415.04 L844.91,416.88 L846.17,415 L847.64,415 L848.98,416.87 L849.99,415 L851.59,415.36 L852.64,415 L854.34,415.69 L855.3,415.96 L856.89,416.39 L858.5,416.7 L859.64,417.17 L861.23,415 L862.23,415.52 L863.43,416.16 L864.9,415.35 L865.96,417.3 L867.39,415 L868.72,416.02 L870.28,415 L871.81,415.73 L872.88,417.43 L874.15,417.34 L875.21,415 L876.46,415 L877.47,417.2 L878.76,415.04 L880.11,417 L881.19,416.8 L882.32,415 L883.34,415 L884.65,415 L886.18,417.38 L887.26,417.08 L888.89,415 L890.48,415 L891.41,417.09 L892.92,417.19 L894.39,416.8 L896.02,415 L897.04,415 L898.25,415.08 L899.27,415.73 L900.61,415.23 L901.63,415.46 L903.07,415.29 L904.07,417.31 L905.72,416.32 L907.01,415.04 L908.63,415 L909.91,417.16 L911.28,415 L912.29,415 L913.66,415.75 L915.03,417.42 L916.09,415.38 L917.03,415.83 L918.32,415.82 L919.36,416.97 L920.91,416.81 L921.88,415 L923.26,415 L924.19,416.45 L925.61,415.33 L927.18,415.19 L928.61,415 L930.04,415 L931.61,417.18 L932.75,415 L934.36,415.29 L935.47,416.35 L936.75,415.41 L937.68,415 L938.81,415 L940.44,416.82 L941.74,415 L942.72,415.13 L944.08,415 L945.05,415.43 L946.75,416.06 L948.06,415 L949.03,415 L950.12,416.94 L951.59,415 L952.55,415 L953.48,416.55 L954.52,415 L956.07,415 L956.98,417.35 L958.51,415 L959.53,415 L960.55,415 L961.61,417.31 L962.78,415 L964.31,416.2 L965.63,415 L967.13,415 L968,415Z" fill="#cf667a" fill-opacity="0.9"/>
<path d="M74,414.5V409M77.77,414.5V409M88.47,414.5V411M127.88,414.5V410.5M141.44,414.5V410.5M147.51,414.5V411M151.69,414.5V408M158.27,414.5V410M161.25,414.5V410M164.18,414.5V410.5M177.37,414.5V410M179.78,414.5V410.5M183.6,414.5V409M194.39,414.5V410.5M197.25,414.5V409M211.3,414.5V411M220.86,414.5V410M229.85,414.5V410.5M233.33,414.5V410M253.75,414.5V410M260.03,414.5V409M288.19,414.5V410M315.69,414.5V410M327.26,414.5V408M334.08,414.5V409.5M380.86,414.5V411.5M384.46,414.5V410.3M397.42,414.5V410.9M467.11,414.5V410.9M473.8,414.5V411.5M480.89,414.5V410.3M487.14,414.5V410.3M490.35,414.5V410.3M505.5,414.5V411.5M515.82,414.5V410.3M560.23,414.5V411.5M564.24,414.5V411.5M566.52,414.5V410.9M575.92,414.5V409.5M580.55,414.5V410.9M590.44,414.5V411.5M597.44,414.5V411.5M617.88,414.5V410.9M630.16,414.5V411.5M647.76,414.5V410.9M687.13,414.5V411.5M691.26,414.5V411.5M701.91,414.5V410.9M722.67,414.5V411.5M729.53,414.5V411.5M732.02,414.5V409.5M758.69,414.5V411.5M764.73,414.5V410.9M783.75,414.5V411.5M791.76,414.5V410.9M803.39,414.5V409.5M806.56,414.5V409.5M808.95,414.5V409.5M815.32,414.5V410.3M821.55,414.5V410.9M824.72,414.5V409.5M829.82,414.5V410.3M832.44,414.5V410.3M852.89,414.5V410.9M869.37,414.5V410.9M889.95,414.5V410.9M897.54,414.5V409.5M901.07,414.5V410.3M913.15,414.5V409.5M915.65,414.5V410.9M922.06,414.5V409.5M928.49,414.5V410.3M936.65,414.5V411.5M940.66,414.5V410.9M951.72,414.5V410.9M76.25,414.5V387.5M74.65,414.5V407.29M77.85,414.5V402.22M80,414.5V401M78.4,414.5V410.27M81.6,414.5V409.8M83,414.5V405M81.4,414.5V409.5M84.6,414.5V410.86M91,414.5V404.5M89.4,414.5V410.98M92.6,414.5V409.72M97.5,414.5V408.75M106.25,414.5V357.5M104.65,414.5V383.9M107.85,414.5V385.04M110,414.5V381M108.4,414.5V401.45M111.6,414.5V402.87M114.5,414.5V391M112.9,414.5V401.78M116.1,414.5V401.73M116,414.5V396M114.4,414.5V409.38M117.6,414.5V404.49M118,414.5V378.75M116.4,414.5V399.74M119.6,414.5V401.26M121,414.5V393.75M119.4,414.5V408.48M122.6,414.5V404.66M123,414.5V402M121.4,414.5V409.98M124.6,414.5V408.72M127.5,414.5V405M125.9,414.5V411.04M129.1,414.5V410.72M133,414.5V400M131.4,414.5V409.29M134.6,414.5V406.54M137.5,414.5V396M135.9,414.5V406.32M139.1,414.5V405M152.5,414.5V407.5M162.5,414.5V409.5M180,414.5V404.5M178.4,414.5V411.66M181.6,414.5V410.47M190,414.5V407.5M195,414.5V386M193.4,414.5V399.81M196.6,414.5V402.11M197.5,414.5V378.75M195.9,414.5V398.63M199.1,414.5V400.53M200,414.5V381M198.4,414.5V401.56M201.6,414.5V402.79M202.5,414.5V401M200.9,414.5V408.93M204.1,414.5V409.73M205.75,414.5V401M204.15,414.5V408.05M207.35,414.5V409.85M208,414.5V404M206.4,414.5V409.32M209.6,414.5V409.69M211,414.5V396M209.4,414.5V406.12M212.6,414.5V405.54M213,414.5V405M211.4,414.5V411M214.6,414.5V411.79M220,414.5V392.5M218.4,414.5V404.85M221.6,414.5V407.07M222,414.5V398M220.4,414.5V407.65M223.6,414.5V409.37M224.5,414.5V390.5M222.9,414.5V406.71M226.1,414.5V404.24M227,414.5V398.75M225.4,414.5V406.93M228.6,414.5V408.82M231,414.5V406M237.5,414.5V376M235.9,414.5V395.05M239.1,414.5V397.38M240.5,414.5V402.5M238.9,414.5V410.91M242.1,414.5V411.27M243,414.5V406M247,414.5V404.5M245.4,414.5V410.64M248.6,414.5V410M256,414.5V405.5M276,414.5V392.5M274.4,414.5V403.94M277.6,414.5V408.7M278,414.5V404M276.4,414.5V409.05M279.6,414.5V410M280,414.5V405M278.4,414.5V410.95M281.6,414.5V410.53M287,414.5V402M285.4,414.5V411.27M288.6,414.5V408.38M302.5,414.5V409.5M308.75,414.5V408.75M317.5,414.5V410.5M325.5,414.5V409.5M347.5,414.5V406M351,414.5V408.75M358.75,414.5V407.5M388.75,414.5V404.5M387.15,414.5V409.49M390.35,414.5V411.74M392,414.5V406M400,414.5V402.5M398.4,414.5V410.6M401.6,414.5V410.88M402.5,414.5V406M413,414.5V408.75M422.5,414.5V402.5M420.9,414.5V410.87M424.1,414.5V408.26M425,414.5V408M427.5,414.5V389.5M425.9,414.5V402.36M429.1,414.5V406.48M429.5,414.5V400M427.9,414.5V410.77M431.1,414.5V410.52M431,414.5V405M429.4,414.5V411.87M432.6,414.5V411.56M433,414.5V408M440,414.5V404.5M438.4,414.5V410.59M441.6,414.5V411.78M450.75,414.5V407.5M460,414.5V410.5M467.5,414.5V410.5M483,414.5V404.5M481.4,414.5V410.95M484.6,414.5V411.12M486,414.5V409.5M495,414.5V410.5M519.5,414.5V402M517.9,414.5V408.57M521.1,414.5V408.09M522,414.5V409M526,414.5V408M528,414.5V409M536,414.5V410M570,414.5V409.5M589.5,414.5V407.5M597.5,414.5V410.5M619.5,414.5V407.5M624.5,414.5V408.75M641,414.5V409.5M651,414.5V410M658,414.5V405M656.4,414.5V411.18M659.6,414.5V409.48M660.75,414.5V410.5M675.5,414.5V408.75M690,414.5V410.5M696,414.5V404.5M694.4,414.5V411.21M697.6,414.5V411.2M700.75,414.5V406M706,414.5V408.75M718.75,414.5V410M738,414.5V407.5M745,414.5V406M750,414.5V411M791,414.5V410.5M791.75,414.5V410M818,414.5V410.5M848,414.5V408.75M860.5,414.5V397M858.9,414.5V409.79M862.1,414.5V409.85M863.75,414.5V402.5M862.15,414.5V408M865.35,414.5V411.03M867,414.5V408.75M873.5,414.5V405M871.9,414.5V409.65M875.1,414.5V411.19M878,414.5V409.5M903,414.5V410.5M917,414.5V409.5M959,414.5V410.5" stroke="#12a683" stroke-width="1.8" stroke-opacity="0.88" fill="none"/>
<path d="M108.57,414.7V417.1M124,414.7V419.1M154.71,414.7V417.1M190.86,414.7V417.7M256.35,414.7V417.7M281.34,414.7V417.3M294.85,414.7V418.5M300.55,414.7V416.5M305.74,414.7V417.1M309.71,414.7V417.3M337.62,414.7V417.7M341.19,414.7V416.5M348.1,414.7V419.1M351.87,414.7V419.1M355.77,414.7V417.7M363.27,414.7V419.1M393.57,414.7V417.3M410.67,414.7V417.1M429.05,414.7V418.5M436.36,414.7V417.3M438.94,414.7V417.1M441.29,414.7V417.1M450.47,414.7V419.1M454.11,414.7V417.1M464.3,414.7V417.7M470.69,414.7V419.1M493.87,414.7V417.7M512.55,414.7V417.3M522.44,414.7V417.1M526.45,414.7V417.3M541.41,414.7V419.1M544.96,414.7V419.1M550.54,414.7V419.1M553.21,414.7V418.5M556.55,414.7V419.1M578.16,414.7V419.1M604.51,414.7V417.1M610.81,414.7V418.5M614.98,414.7V417.3M621.78,414.7V417.7M624.53,414.7V418.5M633.72,414.7V418.5M657.83,414.7V417.7M660.09,414.7V417.1M671.68,414.7V418.5M677.87,414.7V417.1M684.26,414.7V419.1M708.18,414.7V417.1M711.6,414.7V419.1M714.37,414.7V416.5M726.26,414.7V416.5M748.73,414.7V417.1M750.99,414.7V417.1M754.8,414.7V416.5M767.89,414.7V417.7M771.4,414.7V416.5M787.7,414.7V418.5M798.42,414.7V416.5M856.63,414.7V417.7M862.8,414.7V419.1M877.15,414.7V417.1M883.45,414.7V418.5M892.53,414.7V418.5M910.47,414.7V417.7M919.01,414.7V417.1M932.62,414.7V418.5M960.93,414.7V418.5M963.5,414.7V417.1M966.52,414.7V416.5M85,414.5V423M77,414.5V417.5M132.5,414.5V419M141,414.5V418M151,414.5V419.5M157,414.5V419M167.5,414.5V418M186.75,414.5V420M229,414.5V423M250.5,414.5V421M274,414.5V420.75M305,414.5V418.75M311,414.5V421M312,414.5V421M318,414.5V420.5M321,414.5V421M341,414.5V421M354.5,414.5V422M367.5,414.5V418.75M382.5,414.5V422M407,414.5V422M414.5,414.5V418M420,414.5V418.75M443.75,414.5V418.75M450,414.5V426M461.75,414.5V428.75M471,414.5V432.5M481.5,414.5V419.5M512.5,414.5V421M515.5,414.5V419.5M526,414.5V420M543.75,414.5V418M565.5,414.5V418.75M609.5,414.5V421M613.75,414.5V419.5M621,414.5V417.5M639.5,414.5V425M655,414.5V423M666,414.5V419.5M674.5,414.5V420M688.75,414.5V418M695,414.5V421M698.75,414.5V425.5M702,414.5V420M716,414.5V420.5M721,414.5V419.5M745,414.5V418.75M757.5,414.5V418.75M772.5,414.5V420.5M778.75,414.5V418.75M796,414.5V418.75M811,414.5V419.5M771.75,414.5V420M779,414.5V419.5M796,414.5V418.75M811,414.5V420M840.5,414.5V419.5M857,414.5V422.5M859,414.5V423M880.5,414.5V419.5M893,414.5V426.25M896.75,414.5V421M911,414.5V423.75M915.5,414.5V428.75M919,414.5V420M926,414.5V418.75M966.75,414.5V418.75" stroke="#d96b78" stroke-width="1.8" stroke-opacity="0.9" fill="none"/>
<g stroke="#b3bad3" stroke-width="1.5" stroke-linecap="square" fill="none"><line x1="72.8" y1="448.5" x2="968.7" y2="448.5"/><line x1="72.8" y1="526" x2="968.7" y2="526"/><line x1="72.8" y1="448.5" x2="72.8" y2="526"/><line x1="80.4" y1="448.5" x2="80.4" y2="526"/><line x1="216.4" y1="448.5" x2="216.4" y2="526"/><line x1="353.2" y1="448.5" x2="353.2" y2="526"/><line x1="489.9" y1="448.5" x2="489.9" y2="526"/><line x1="626.4" y1="448.5" x2="626.4" y2="526"/><line x1="763" y1="448.5" x2="763" y2="526"/><line x1="899.5" y1="448.5" x2="899.5" y2="526"/><line x1="968.7" y1="448.5" x2="968.7" y2="526"/></g>
<text x="964" y="530.4" fill="#b3bad2" font-size="12.1" text-anchor="end">-3000000000</text>
<path d="M73.5,513.2 L73.75,450 L75,462 L76.25,480 L77.5,478 L78.75,492.5 L80,494 L81.25,496 L82.5,499 L83.75,492 L85,468.75 L86,480 L87,488.75 L88.5,494 L90,492.5 L91.2,497 L92.5,502.5 L94,504 L95.5,500 L97.5,496 L99,500 L101,505 L102.5,500 L104,492 L105,480.5 L106,494 L107.5,502.5 L109,503 L110.5,504 L112.5,506 L114,505 L115.5,507.5 L117.5,508.75 L120,508 L122,509.5 L124,510 L126,508.75 L128,510 L131,509.5 L134,510.5 L137.5,508 L140,510.5 L142.5,511 L145,511 L148,510.5 L151,510 L154,511.3 L158,511 L163,511.5 L170,511.6 L175,511.3 L180,510.75 L184,511.5 L188,511 L192.5,509.5 L194,511 L196,510.75 L199,511.8 L201,513.2 Z" fill="#4b62ae" fill-opacity="0.88" stroke="#5068b8" stroke-opacity="0.6" stroke-width="0.8" stroke-linejoin="round"/>
<path d="M655,513.2 L656.5,511.3 L658.5,511.90000000000003 L660,513.2Z" fill="#4c66b5" opacity="0.8"/>
<path d="M696,513.2 L703.0,510.8 L705.0,511.40000000000003 L712,513.2Z" fill="#4c66b5" opacity="0.8"/>
<path d="M760,513.2 L762.0,511.6 L764.0,512.2 L766,513.2Z" fill="#4c66b5" opacity="0.8"/>
<path d="M853,513.2 L856.5,511 L858.5,511.6 L862,513.2Z" fill="#4c66b5" opacity="0.8"/>
<path d="M868,513.2 L871.0,511.4 L873.0,512.0 L876,513.2Z" fill="#4c66b5" opacity="0.8"/>
<line x1="72.8" y1="513.2" x2="968.7" y2="513.2" stroke="#f3bb4f" stroke-width="2.6"/>
<g stroke="#b3bad3" stroke-width="1.5" stroke-linecap="square" fill="none"><line x1="72.8" y1="541" x2="968.7" y2="541"/><line x1="72.8" y1="618.5" x2="968.7" y2="618.5"/><line x1="72.8" y1="541" x2="72.8" y2="618.5"/><line x1="80.4" y1="541" x2="80.4" y2="618.5"/><line x1="216.4" y1="541" x2="216.4" y2="618.5"/><line x1="353.2" y1="541" x2="353.2" y2="618.5"/><line x1="489.9" y1="541" x2="489.9" y2="618.5"/><line x1="626.4" y1="541" x2="626.4" y2="618.5"/><line x1="763" y1="541" x2="763" y2="618.5"/><line x1="899.5" y1="541" x2="899.5" y2="618.5"/><line x1="968.7" y1="541" x2="968.7" y2="618.5"/></g>
<text x="964" y="622.4" fill="#b3bad2" font-size="12.1" text-anchor="end">0</text>
<path d="M73,550 L74,548.5 L75,551.25 L75.75,567.5 L76.25,592.5 L77,589 L78,590 L78.7,596 L79.5,600 L81,603 L82.5,604.5 L84,603.5 L86.25,603 L87.5,605 L88.75,606.25 L90,604.5 L91.25,605 L93,607 L95,608 L97.5,608.3 L100,609 L103,608.5 L106.25,608 L108,610 L110,612 L113,613.5 L117.5,614.5 L121,615 L125,615.5 L132,615.8 L140,616 L156,616.3 L172.5,616.5 L195,617 L215,617.25 L316,617.6 L500,617.7 L968.5,617.8" fill="none" stroke="#ea6462" stroke-width="2.4" stroke-linejoin="round"/>
<text transform="translate(984.4,268.6) rotate(-90)" text-anchor="middle" fill="#b3bad2" font-size="12.4" textLength="67" lengthAdjust="spacingAndGlyphs">Floating P/L</text>
<text transform="translate(984.4,395.1) rotate(-90)" text-anchor="middle" fill="#b3bad2" font-size="12.4" textLength="57" lengthAdjust="spacingAndGlyphs">Period P/L</text>
<text transform="translate(984.6,487.8) rotate(-90)" text-anchor="middle" fill="#b3bad2" font-size="12.4" textLength="92.4" lengthAdjust="spacingAndGlyphs">Volume/Position</text>
<text transform="translate(996.4,487.4) rotate(-90)" text-anchor="middle" fill="#b3bad2" font-size="12.4" textLength="71.5" lengthAdjust="spacingAndGlyphs">(DOGEUSDT)</text>
<text transform="translate(984.4,579.1) rotate(-90)" text-anchor="middle" fill="#b3bad2" font-size="12.4" textLength="56.5" lengthAdjust="spacingAndGlyphs">Fund Rate</text>
<g fill="#b3bad2" stroke="#b3bad2" stroke-width="0.25" font-size="12.4" text-anchor="middle">
<text x="80" y="637">01/07</text><text x="80" y="648">2021</text>
<text x="216.5" y="637">05/03</text><text x="216.5" y="648">2021</text>
<text x="353.2" y="637">08/26</text><text x="353.2" y="648">2021</text>
<text x="489.9" y="637">12/20</text><text x="489.9" y="648">2021</text>
<text x="626.4" y="637">04/15</text><text x="626.4" y="648">2022</text>
<text x="763" y="637">08/08</text><text x="763" y="648">2022</text>
<text x="899.5" y="637">12/02</text><text x="899.5" y="648">2022</text>
<text x="968.5" y="637">01/30</text><text x="968.5" y="648">2023</text>
</g>
<circle cx="183.1" cy="708.9" r="6.9" fill="#19c697"/>
<text x="200.75" y="714" fill="#e9ecf4" font-size="12.6" font-weight="bold" textLength="66.75" lengthAdjust="spacingAndGlyphs">Floating P/L</text>
<circle cx="283.1" cy="708.9" r="6.9" fill="#15b08b"/>
<text x="300.75" y="714" fill="#e9ecf4" font-size="12.6" font-weight="bold" textLength="57.25" lengthAdjust="spacingAndGlyphs">Period P/L</text>
<circle cx="374.4" cy="708.9" r="6.9" fill="#5470c6"/>
<text x="391.25" y="714" fill="#e9ecf4" font-size="12.6" font-weight="bold" textLength="113.75" lengthAdjust="spacingAndGlyphs">Volume(DOGEUSDT)</text>
<circle cx="521.4" cy="708.9" r="6.9" fill="#91cc75"/>
<text x="538.75" y="714" fill="#e9ecf4" font-size="12.6" font-weight="bold" textLength="99.25" lengthAdjust="spacingAndGlyphs">Long(DOGEUSDT)</text>
<circle cx="654.6" cy="708.9" r="6.9" fill="#fac858"/>
<text x="672" y="714" fill="#e9ecf4" font-size="12.6" font-weight="bold" textLength="101.75" lengthAdjust="spacingAndGlyphs">Short(DOGEUSDT)</text>
<circle cx="790.1" cy="708.9" r="6.9" fill="#ee6666"/>
<text x="807.5" y="714" fill="#e9ecf4" font-size="12.6" font-weight="bold" textLength="55" lengthAdjust="spacingAndGlyphs">Fund Rate</text>
<rect x="150" y="726.3" width="745.5" height="7.4" fill="#9ba6c7"/>
<rect x="150" y="733.2" width="745.5" height="1.3" fill="#c3cae1"/>
<rect x="150" y="734.4" width="745.5" height="16.4" fill="#3b4975"/>
<path d="M150,750.6 L150,749 L175,747.6 L200,745.5 L230,743.5 L260,741.8 L300,740.4 L350,739.5 L420,738.6 L520,738 L650,737.2 L780,736.6 L895.5,736.3 L895.5,750.6Z" fill="#4b5b8f" stroke="#6473a8" stroke-width="0.8"/>
<rect x="150" y="750.4" width="745.5" height="1.5" fill="#aeb7d6"/>
<rect x="148" y="736" width="4.6" height="13" rx="1.6" fill="#fff"/>
<rect x="892.6" y="736" width="4.6" height="13" rx="1.6" fill="#fff"/>
<path d="M520.6,728.6v3.3M523,728.6v3.3M525.4,728.6v3.3" stroke="#fff" stroke-width="1.2"/>
</svg>
</body></html>
